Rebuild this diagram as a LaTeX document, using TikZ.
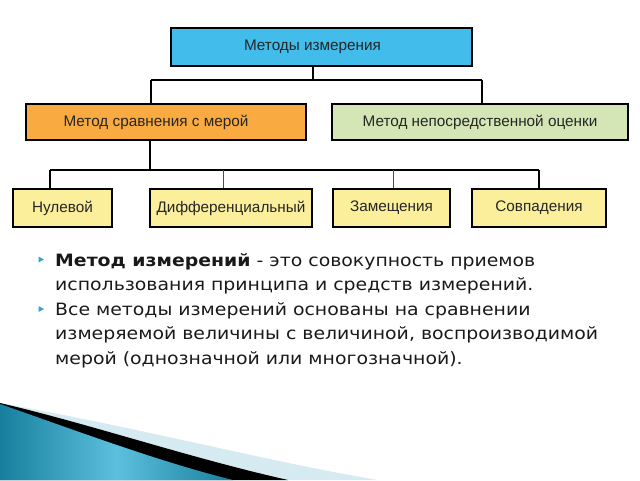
\documentclass[tikz,border=0pt]{standalone}
\usepackage{fontspec}
\newfontfamily\boxfont{Liberation Sans}
\newfontfamily\listfont[FakeStretch=1.11]{DejaVu Sans}
\usetikzlibrary{positioning}
\definecolor{topblue}{HTML}{41BCEB}
\definecolor{cmporange}{HTML}{F9AA40}
\definecolor{dirgreen}{HTML}{D4E6B5}
\definecolor{kindyellow}{HTML}{FCEF9C}
\definecolor{bulletblue}{HTML}{3AA2CA}
\definecolor{swlight}{HTML}{D6EAF2}
\definecolor{swdark}{HTML}{177F9E}
\definecolor{swmid}{HTML}{5CC0DD}
\tikzset{M node/.style={draw=black, line width=1.2pt, minimum height=38pt, inner sep=0pt,
           font=\boxfont\fontsize{15.3}{18}\selectfont, text=black!85},
         L node/.style={anchor=north west, align=left, inner sep=0pt,
           font=\listfont\fontsize{17}{24.5}\selectfont, text=black!90},
         T line/.style={draw=black, line width=1.4pt},}

\begin{document}
\begin{tikzpicture}[x=1pt,y=-1pt]
	\useasboundingbox (0,0) rectangle (640,480);

	% boxes
	\node[M node, fill=topblue, minimum width=301pt] (mtd) at (321.5,47) {Методы измерения\hspace*{18pt}};
	\node[M node, fill=cmporange, minimum width=280pt, minimum height=36pt] (cmp) at (166,122) {Метод сравнения с мерой\hspace*{20pt}};
	\node[M node, fill=dirgreen, minimum width=296pt, minimum height=36pt] (dir) at (480,122) {Метод непосредственной оценки};

	\node[M node, fill=kindyellow, minimum width=99pt] (nul) at (62.5,208) {Нулевой};
	\node[M node, fill=kindyellow, minimum width=162pt] (dif) at (231,208) {Дифференциальный};
	\node[M node, fill=kindyellow, minimum width=117pt] (zam) at (391.5,208) {Замещения};
	\node[M node, fill=kindyellow, minimum width=134pt] (sov) at (539,208) {Совпадения};

	% tree lines
	\coordinate (j1) at (313,80);
	\coordinate (j1l) at (151,80);
	\coordinate (j1r) at (482,80);
	\coordinate (j2) at (150,170);
	\coordinate (j2a) at (50,170);
	\coordinate (j2b) at (223,170);
	\coordinate (j2c) at (393,170);
	\coordinate (j2d) at (539,170);

	\path[T line]
		(j1 |- mtd.south) -- (j1)
		(j1l) -- (j1r)
		(j1l) -- (j1l |- cmp.north)
		(j1r) -- (j1r |- dir.north)
		(j2 |- cmp.south) -- (j2)
		(j2a) -- (j2d)
		(j2a) -- (j2a |- nul.north)
		(j2d) -- (j2d |- sov.north);
	\path[draw=black!70, line width=0.8pt]
		(j2b) -- (j2b |- dif.north)
		(j2c) -- (j2c |- zam.north);

	% text
	\fill[bulletblue] (38.5,256.5) -- (44,259.5) -- (38.5,262.5) -- cycle;
	\node[L node] (t1) at (55,253) {\textbf{Метод измерений} - это совокупность приемов\\использования принципа и средств измерений.};
	\fill[bulletblue] (38.5,306) -- (44,309) -- (38.5,312) -- cycle;
	\node[L node] (t2) at (55,302) {Все методы измерений основаны на сравнении\\измеряемой величины с величиной, воспроизводимой\\мерой (однозначной или многозначной).};

	% swoosh
	\fill[swlight] (0,403) .. controls (150,430) and (270,462) .. (378,480) -- (0,480) -- cycle;
	\fill[black] (0,403) .. controls (90,424) and (190,458) .. (288,480) -- (0,480) -- cycle;
	\shade[left color=swdark, right color=swdark, middle color=swmid]
		(0,404) .. controls (80,432) and (160,462) .. (233,480) -- (0,480) -- cycle;
\end{tikzpicture}
\end{document}
